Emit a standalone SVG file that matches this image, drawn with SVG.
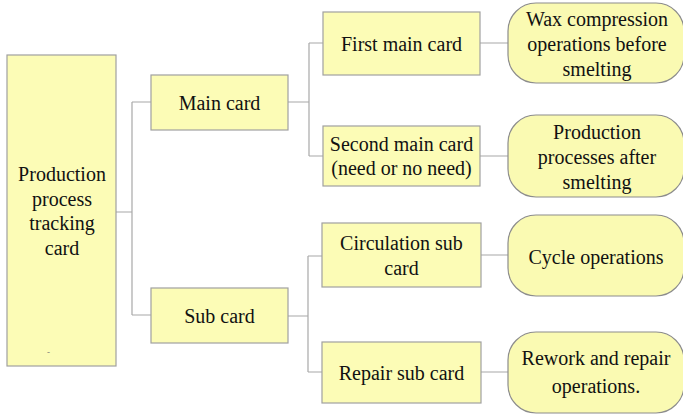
<svg xmlns="http://www.w3.org/2000/svg" width="683" height="414" viewBox="0 0 683 414" font-family="'Liberation Serif', 'DejaVu Serif', serif">
  <style>
    .card { fill: #FCFCB6; stroke: #A0A0A0; stroke-width: 1.2; }
    .ops { fill: #FAFAB2; stroke: #8C8C8C; stroke-width: 1.2; }
    .link { fill: none; stroke: #A8A8A8; stroke-width: 1.2; }
    text { font-size: 20px; fill: #111; text-anchor: middle; dominant-baseline: central; }
  </style>
  <rect width="683" height="414" fill="#FFFFFF"/>

  <!-- connectors -->
  <g id="connectors">
    <path class="link" d="M116,212 H132 M132,102 V315 M132,102 H151 M132,315 H151"/>
    <path class="link" d="M288,102 H309 M309,43 V156 M309,43 H323 M309,156 H323"/>
    <path class="link" d="M288,316 H308 M308,256 V372 M308,256 H322 M308,372 H322"/>
    <path class="link" d="M480,43 H508 M480,156 H508 M481,255 H508 M481,372 H508"/>
  </g>

  <!-- root -->
  <g id="root">
    <rect class="card" x="7" y="55" width="109" height="311"/>
    <text x="62" y="174">Production</text>
    <text x="62" y="198.5">process</text>
    <text x="62" y="223">tracking</text>
    <text x="62" y="247.5">card</text>
    <text x="48.5" y="352" style="font-size:9px; fill:#777">-</text>
  </g>

  <!-- second level -->
  <g id="main-card">
    <rect class="card" x="151" y="75" width="137" height="55"/>
    <text x="219.5" y="102.5">Main card</text>
  </g>
  <g id="sub-card">
    <rect class="card" x="151" y="288" width="137" height="55"/>
    <text x="219.5" y="315.5">Sub card</text>
  </g>

  <!-- third level -->
  <g id="first-main-card">
    <rect class="card" x="323" y="12" width="157" height="63"/>
    <text x="401.5" y="43.5">First main card</text>
  </g>
  <g id="second-main-card">
    <rect class="card" x="323" y="126" width="157" height="60"/>
    <text x="401.5" y="144">Second main card</text>
    <text x="401.5" y="168">(need or no need)</text>
  </g>
  <g id="circulation-sub-card">
    <rect class="card" x="322" y="223" width="159" height="64"/>
    <text x="401.5" y="243">Circulation sub</text>
    <text x="401.5" y="267.5">card</text>
  </g>
  <g id="repair-sub-card">
    <rect class="card" x="322" y="342" width="159" height="61"/>
    <text x="401.5" y="372.5">Repair sub card</text>
  </g>

  <!-- operations -->
  <g id="wax-ops">
    <rect class="ops" x="508" y="3" width="176" height="80" rx="28" ry="28"/>
    <text x="597" y="18.5">Wax compression</text>
    <text x="597" y="43.5">operations before</text>
    <text x="597" y="68.5">smelting</text>
  </g>
  <g id="after-smelting-ops">
    <rect class="ops" x="508" y="115" width="176" height="82" rx="28" ry="28"/>
    <text x="597" y="132">Production</text>
    <text x="597" y="157">processes after</text>
    <text x="597" y="182">smelting</text>
  </g>
  <g id="cycle-ops">
    <rect class="ops" x="508" y="215" width="176" height="81" rx="28" ry="28"/>
    <text x="596" y="256.5">Cycle operations</text>
  </g>
  <g id="rework-ops">
    <rect class="ops" x="508" y="332" width="176" height="81" rx="28" ry="28"/>
    <text x="596" y="358">Rework and repair</text>
    <text x="596" y="386">operations.</text>
  </g>
</svg>
